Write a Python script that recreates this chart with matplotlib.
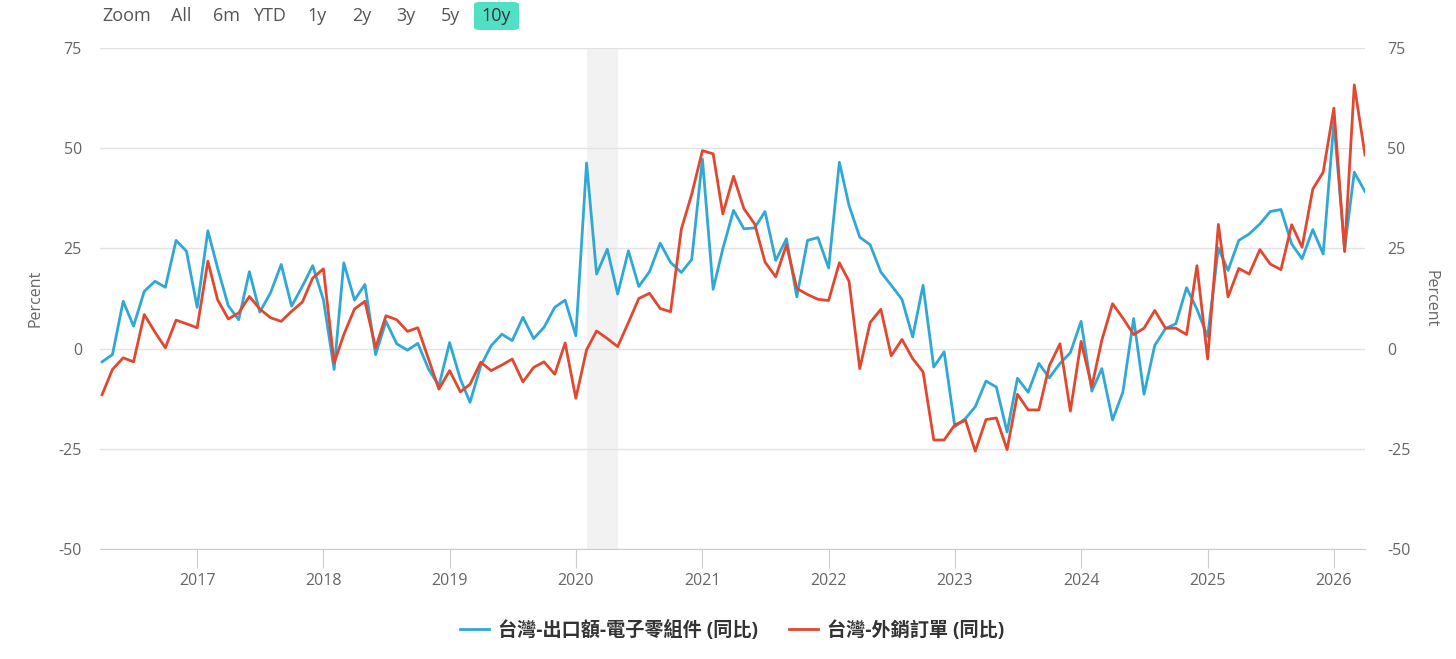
import matplotlib
matplotlib.use("Agg")
import matplotlib.pyplot as plt
import matplotlib.dates as mdates
from matplotlib.patches import FancyBboxPatch
import pandas as pd

plt.rcParams['font.family'] = ['Open Sans', 'Noto Sans CJK TC', 'DejaVu Sans']
plt.rcParams['axes.unicode_minus'] = False

# monthly data, Apr 2016 - Apr 2026
start_month = "2016-04-01"
exports_elec = [
    -3.3, -1.5, 11.8, 5.6, 14.3, 16.8, 15.3, 27.0, 24.3, 10.3,
    29.4, 20.1, 10.7, 7.2, 19.2, 9.1, 13.9, 21.0, 10.6, 15.5,
    20.7, 12.2, -5.2, 21.4, 12.1, 16.0, -1.5, 6.8, 1.2, -0.4,
    1.3, -5.1, -9.3, 1.5, -7.6, -13.4, -4.3, 0.7, 3.6, 2.0,
    7.8, 2.5, 5.3, 10.3, 12.1, 3.2, 46.3, 18.6, 24.8, 13.6,
    24.4, 15.5, 19.2, 26.3, 21.5, 19.0, 22.2, 47.3, 14.8, 24.9,
    34.5, 29.9, 30.1, 34.2, 22.0, 27.4, 12.9, 27.0, 27.7, 20.1,
    46.5, 35.7, 27.8, 25.9, 19.1, 15.8, 12.3, 2.9, 15.8, -4.6,
    -0.8, -19.5, -17.4, -14.5, -8.1, -9.6, -20.8, -7.4, -10.9, -3.7,
    -7.3, -3.7, -1.0, 6.8, -10.6, -5.0, -17.8, -10.8, 7.5, -11.4,
    0.8, 5.0, 6.2, 15.2, 9.8, 3.0, 25.1, 19.5, 27.0, 28.6,
    31.1, 34.2, 34.7, 26.1, 22.4, 29.7, 23.6, 56.5, 24.9, 44.0,
    39.2,
]
export_orders = [
    -11.5, -5.2, -2.3, -3.3, 8.5, 4.1, 0.2, 7.1, 6.2, 5.2,
    21.8, 12.2, 7.4, 8.9, 13.0, 9.9, 7.7, 6.8, 9.3, 11.6,
    17.6, 19.9, -3.6, 3.5, 9.9, 11.8, 0.2, 8.2, 7.2, 4.3,
    5.2, -2.6, -10.1, -5.5, -10.8, -8.9, -3.4, -5.5, -4.1, -2.6,
    -8.3, -4.7, -3.3, -6.4, 1.4, -12.4, -0.3, 4.4, 2.5, 0.5,
    6.5, 12.5, 13.8, 10.0, 9.2, 29.8, 38.5, 49.4, 48.6, 33.6,
    43.0, 34.9, 31.1, 21.6, 17.9, 25.9, 15.0, 13.5, 12.3, 12.0,
    21.4, 16.8, -5.0, 6.5, 9.8, -1.8, 2.3, -2.5, -5.8, -22.8,
    -22.8, -19.0, -17.9, -25.6, -17.7, -17.3, -25.2, -11.4, -15.3, -15.3,
    -4.3, 1.2, -15.6, 1.8, -9.5, 2.1, 11.2, 7.6, 3.5, 5.1,
    9.5, 5.1, 5.1, 3.5, 20.7, -2.6, 31.0, 12.9, 20.0, 18.6,
    24.7, 21.1, 19.7, 30.9, 25.3, 39.8, 44.0, 60.0, 24.2, 65.8,
    48.3,
]
series_names = ["台灣-出口額-電子零組件 (同比)", "台灣-外銷訂單 (同比)"]
recession = ("2020-02-01", "2020-05-01")
y_ticks = [-50, -25, 0, 25, 50, 75]
buttons = ["Zoom", "All", "6m", "YTD", "1y", "2y", "3y", "5y", "10y"]

dates = pd.date_range(start_month, periods=len(exports_elec), freq="MS")

BLUE = "#2fa8d6"
RED = "#e2472f"
GRID = "#e3e3e3"
TXT = "#666666"

fig = plt.figure(figsize=(14.56, 6.59), dpi=100)
ax = fig.add_axes([100 / 1456, 1 - 549 / 659, 1265 / 1456, 501 / 659])

ax.axvspan(pd.Timestamp(recession[0]), pd.Timestamp(recession[1]), color="#f2f2f2", lw=0, zorder=0)
ax.plot(dates, exports_elec, color=BLUE, lw=2.0, label=series_names[0], zorder=3)
ax.plot(dates, export_orders, color=RED, lw=2.0, label=series_names[1], zorder=4)

ax.set_ylim(-50, 75)
ax.set_xlim(dates[0] - pd.Timedelta(days=6), dates[-1])
ax.set_yticks(y_ticks)
ax.grid(axis="y", color=GRID, lw=1)
ax.set_axisbelow(True)
for s in ["top", "right", "left"]:
    ax.spines[s].set_visible(False)
ax.spines["bottom"].set_color("#cccccc")

ax.xaxis.set_major_locator(mdates.YearLocator())
ax.xaxis.set_major_formatter(mdates.DateFormatter("%Y"))
ax.tick_params(axis="x", length=14, color="#cccccc", labelsize=11.5, labelcolor=TXT, pad=3)
ax.tick_params(axis="y", length=0, labelsize=11.5, labelcolor=TXT, pad=13)
ax.set_ylabel("Percent", fontsize=11.5, color=TXT)
ax.yaxis.set_label_coords(-0.045, 0.5)

ax2 = ax.twinx()
ax2.set_ylim(ax.get_ylim())
ax2.set_yticks(y_ticks)
ax2.tick_params(axis="y", length=0, labelsize=11.5, labelcolor=TXT, pad=16)
for s in ax2.spines.values():
    s.set_visible(False)
ax2.set_ylabel("Percent", fontsize=11.5, color=TXT, rotation=270, va="center")
ax2.yaxis.set_label_coords(1.052, 0.5)

leg = ax.legend(loc="center", bbox_to_anchor=(0.503, 0.043), bbox_transform=fig.transFigure,
                ncol=2, frameon=False, handlelength=1.5, columnspacing=1.6, handletextpad=0.5,
                prop={"size": 13.8, "weight": "bold", "family": ["Open Sans", "Noto Sans CJK TC"]})
for t in leg.get_texts():
    t.set_color("#333333")

# range selector buttons
btn_x = [102, 171, 213, 253, 307, 352, 396, 441, 481]
box = FancyBboxPatch((474 / 1456, 1 - 30 / 659), 45 / 1456, 28 / 659,
                     boxstyle="round,pad=0,rounding_size=0.004", transform=fig.transFigure,
                     facecolor="#52e0c4", edgecolor="none")
fig.patches.append(box)
for label, bx in zip(buttons, btn_x):
    fig.text(bx / 1456, 1 - 16 / 659, label, fontsize=13, color="#333333" if label == "10y" else "#555555",
             ha="left", va="center")

fig.savefig("out.png", dpi=100, facecolor="white")
